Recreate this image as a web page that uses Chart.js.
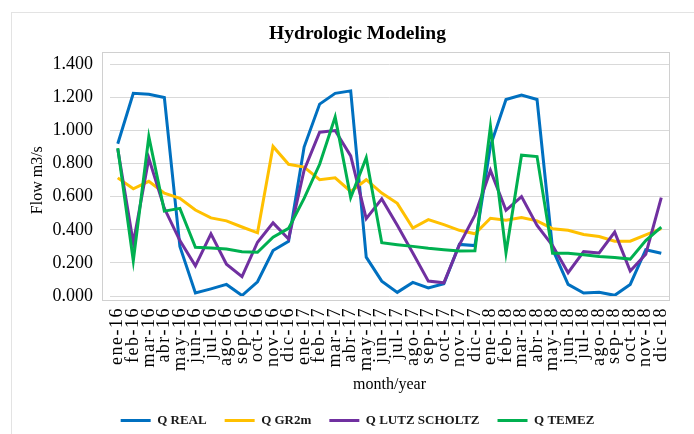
<!DOCTYPE html>
<html>
<head>
<meta charset="utf-8">
<script src="https://cdn.jsdelivr.net/npm/chart.js@4/dist/chart.umd.min.js"></script>
<style>
  html, body { margin: 0; padding: 0; background: #fff; }
  #wrap { width: 694px; height: 434px; position: relative; }
</style>
</head>
<body>
<div id="wrap"><canvas id="flowChart" width="694" height="434"></canvas></div>
<script>
const months = ['ene-16','feb-16','mar-16','abr-16','may-16','jun-16','jul-16','ago-16','sep-16','oct-16','nov-16','dic-16',
                'ene-17','feb-17','mar-17','abr-17','may-17','jun-17','jul-17','ago-17','sep-17','oct-17','nov-17','dic-17',
                'ene-18','feb-18','mar-18','abr-18','may-18','jun-18','jul-18','ago-18','sep-18','oct-18','nov-18','dic-18'];

const qReal  = [0.92, 1.225, 1.22, 1.20, 0.30, 0.018, 0.043, 0.07, 0.003, 0.086, 0.275, 0.33,
                0.90, 1.16, 1.225, 1.24, 0.235, 0.09, 0.022, 0.082, 0.049, 0.074, 0.312, 0.305,
                0.908, 1.188, 1.215, 1.188, 0.284, 0.07, 0.018, 0.022, 0.004, 0.07, 0.28, 0.258];
const qGr2m  = [0.714, 0.648, 0.693, 0.622, 0.591, 0.52, 0.472, 0.454, 0.417, 0.382, 0.904, 0.796,
                0.779, 0.703, 0.714, 0.632, 0.703, 0.622, 0.56, 0.411, 0.462, 0.431, 0.397, 0.376,
                0.47, 0.458, 0.474, 0.454, 0.407, 0.397, 0.372, 0.36, 0.331, 0.331, 0.37, 0.407];
const qLutz  = [0.888, 0.321, 0.832, 0.53, 0.335, 0.182, 0.376, 0.192, 0.117, 0.325, 0.442, 0.345,
                0.76, 0.99, 1.0, 0.847, 0.468, 0.587, 0.427, 0.26, 0.09, 0.08, 0.309, 0.489,
                0.759, 0.518, 0.601, 0.427, 0.305, 0.141, 0.268, 0.26, 0.386, 0.151, 0.253, 0.595];
const qTemez = [0.894, 0.213, 0.963, 0.513, 0.53, 0.294, 0.29, 0.284, 0.268, 0.264, 0.356, 0.409,
                0.59, 0.796, 1.082, 0.595, 0.836, 0.322, 0.31, 0.30, 0.288, 0.28, 0.272, 0.274,
                1.025, 0.262, 0.851, 0.843, 0.258, 0.258, 0.25, 0.239, 0.233, 0.223, 0.335, 0.417];

const serif = '"Liberation Serif", "Times New Roman", serif';

// light frames like the Excel chart area / plot area, plus small layout nudges
const frames = {
    id: 'frames',
    afterLayout(chart) {
        // legend sits a little lower in the original
        chart.legend.top += 3;
        chart.legend.bottom += 3;
    },
    beforeDraw(chart) {
        const c = chart.ctx, a = chart.chartArea;
        const xs = chart.scales.x;
        if (!xs._spaced) {
            // month labels look stretched along their length in the original
            const orig = xs.drawLabels;
            xs.drawLabels = function(area) {
                this.ctx.save();
                this.ctx.letterSpacing = '1.5px';
                orig.call(this, area);
                this.ctx.restore();
            };
            xs._spaced = true;
        }
        c.save();
        c.strokeStyle = '#e3e3e3';
        c.lineWidth = 1;
        c.strokeRect(11.5, 12.5, 720, 460);
        c.strokeStyle = '#d0d0d0';
        c.strokeRect(Math.round(a.left - 8) + 0.5, Math.round(a.top - 12) + 0.5,
                     Math.round(a.right - a.left + 8), Math.round(a.bottom - a.top + 16));
        c.restore();
    }
};

function line(label, data, color, order) {
    return {
        label: label,
        data: data,
        borderColor: color,
        backgroundColor: color,
        borderWidth: 3,
        pointRadius: 0,
        tension: 0,
        fill: false,
        order: order
    };
}

const ctx = document.getElementById('flowChart').getContext('2d');
const flowChart = new Chart(ctx, {
    type: 'line',
    data: {
        labels: months,
        datasets: [
            line('Q REAL', qReal, '#0070C0', 4),
            line('Q GR2m', qGr2m, '#FFC000', 3),
            line('Q LUTZ SCHOLTZ', qLutz, '#7030A0', 2),
            line('Q TEMEZ', qTemez, '#00B050', 1)
        ]
    },
    options: {
        responsive: false,
        animation: false,
        layout: { padding: { left: 30, right: 9, top: 0, bottom: 0 } },
        plugins: {
            title: {
                display: true,
                text: 'Hydrologic Modeling',
                color: '#000',
                font: { family: serif, size: 19.5, weight: 'bold', lineHeight: 1.2 },
                padding: { top: 22, bottom: 19 }
            },
            legend: {
                position: 'bottom',
                labels: {
                    usePointStyle: true,
                    pointStyle: 'line',
                    pointStyleWidth: 30,
                    boxHeight: 13,
                    padding: 18,
                    color: '#1a1a1a',
                    font: { family: serif, size: 13, weight: 'bold' },
                    sort: (a, b) => a.datasetIndex - b.datasetIndex
                }
            },
            tooltip: { enabled: false }
        },
        scales: {
            x: {
                offset: true,
                grid: { display: false, drawTicks: false, offset: true },
                border: { display: false },
                ticks: {
                    autoSkip: false,
                    maxRotation: 90,
                    minRotation: 90,
                    padding: 11,
                    color: '#000',
                    font: { family: serif, size: 18 }
                },
                title: {
                    display: true,
                    text: 'month/year',
                    color: '#000',
                    font: { family: serif, size: 16 },
                    padding: { top: 0, bottom: -1 }
                },
                afterFit(scale) { scale.height = 97; }
            },
            y: {
                min: 0,
                max: 1.4,
                grid: { color: '#d9d9d9', lineWidth: 1, drawTicks: false },
                border: { display: false },
                ticks: {
                    stepSize: 0.2,
                    padding: 17,
                    color: '#000',
                    font: { family: serif, size: 18 },
                    callback: v => v.toFixed(3)
                },
                title: {
                    display: true,
                    text: 'Flow m3/s',
                    color: '#000',
                    font: { family: serif, size: 16 },
                    padding: { top: -2, bottom: 0 }
                },
                afterFit(scale) { scale.width = 80; }
            }
        }
    },
    plugins: [frames]
});
</script>
</body>
</html>
